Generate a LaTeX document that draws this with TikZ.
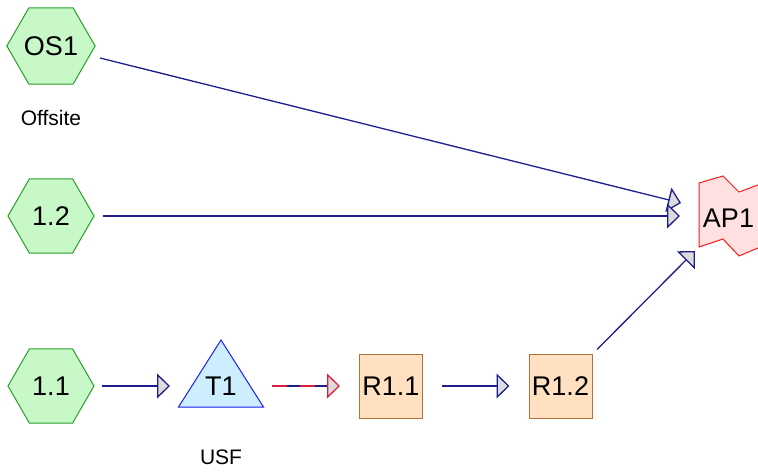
\documentclass[tikz,border=0pt]{standalone}
\usepackage{fontspec}
\setmainfont{Liberation Sans}
\usetikzlibrary{arrows.meta,shapes.geometric,calc}

\definecolor{hexfill}{RGB}{200,248,200}
\definecolor{hexdraw}{RGB}{40,160,40}
\definecolor{tankfill}{RGB}{204,238,255}
\definecolor{tankdraw}{RGB}{30,30,240}
\definecolor{boxfill}{RGB}{255,224,192}
\definecolor{boxdraw}{RGB}{176,112,56}
\definecolor{apfill}{RGB}{255,224,224}
\definecolor{apdraw}{RGB}{240,30,30}
\definecolor{linkcol}{RGB}{30,30,140}
\definecolor{flowred}{RGB}{220,30,60}
\definecolor{tipfill}{RGB}{220,220,220}

\tikzset{
  bigtext/.style={font=\fontsize{27}{31}\selectfont},
  hexnode/.style={regular polygon, regular polygon sides=6, minimum size=86pt,
    inner sep=0pt, draw=hexdraw, fill=hexfill, line width=1pt, bigtext},
  boxnode/.style={rectangle, draw=boxdraw, fill=boxfill, line width=1pt,
    minimum width=63pt, minimum height=64pt, inner sep=0pt, bigtext},
  tankshape/.style={draw=tankdraw, fill=tankfill, line width=1pt, line join=miter},
  apshape/.style={draw=apdraw, fill=apfill, line width=1pt, line join=miter},
  caption/.style={font=\fontsize{21}{25}\selectfont, inner sep=0pt},
  flowtip/.style={-{Triangle[length=13pt,width=25pt,fill=tipfill]}},
  link/.style={draw=linkcol, line width=1.3pt, flowtip},
}

\begin{document}
\begin{tikzpicture}[x=1pt, y=-1pt]
  \useasboundingbox (0,0) rectangle (758,473);

  % sources
  \node[hexnode] (os1) at (51,46) {OS1};
  \node[caption] (offsite) at (51,118) {Offsite};
  \node[hexnode] (n12) at (51,216) {1.2};
  \node[hexnode] (n11) at (51,386) {1.1};

  % tank
  \draw[tankshape] (221,340) -- (263.5,407) -- (178.5,407) -- cycle;
  \node[bigtext, inner sep=0pt] (t1) at (221,386) {T1};
  \node[caption] (usf) at (221,457) {USF};

  % reactors
  \node[boxnode] (r11) at (391,386) {R1.1};
  \node[boxnode] (r12) at (560.5,386) {R1.2};

  % outlet, running past the right edge
  \begin{scope}
    \clip (0,0) rectangle (758,473);
    \draw[apshape] (699,183) -- (723,176) -- (739,192) -- (758,185) -- (775,179)
      -- (775,242) -- (758,248) -- (739,256) -- (723,239) -- (699,247) -- cycle;
  \end{scope}
  \node[bigtext, inner sep=0pt] (ap1) at (728.5,218) {AP1};
  \coordinate (ap1a) at (681,203);
  \coordinate (ap1b) at (680,216);
  \coordinate (ap1c) at (695,251);

  % connectors
  \draw[link] ($(os1)+(49,12)$) -- (ap1a);
  \draw[link] ($(n12)+(52,0)$) -- (ap1b);
  \draw[link] ($(r12.north east)+(4.5,-4)$) -- (ap1c);
  \draw[link] ($(n11)+(51,0)$) -- ($(t1)+(-51,0)$);
  \draw[draw=linkcol, line width=1.3pt] ($(t1)+(51,0)$) -- ($(r11.west)+(-32,0)$);
  \draw[draw=flowred, line width=1.3pt, dash pattern=on 15pt off 13pt, flowtip]
    ($(t1)+(51,0)$) -- ($(r11.west)+(-19,0)$);
  \draw[link] ($(r11.east)+(19,0)$) -- ($(r12.west)+(-19,0)$);
\end{tikzpicture}
\end{document}
